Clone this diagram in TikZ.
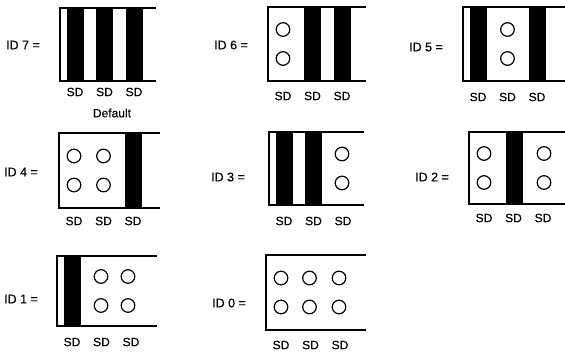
\documentclass[tikz,border=0pt]{standalone}
\usepackage{fontspec}
\setmainfont{Liberation Sans}[FakeBold=0.5]
\tikzset{
  frame/.style={line width=2.4pt, line cap=butt, line join=miter},
  pin/.style={line width=1.2pt},
  lbl/.style={inner sep=0pt, font=\fontsize{12.5}{14}\selectfont},
  sd/.style={inner sep=0pt, font=\fontsize{12}{14}\selectfont},
}
% #1 L, #2 T, #3 B, #4 R
\newcommand\swframe[4]{\draw[frame] (#4,#2) -- (#1,#2) -- (#1,#3) -- (#4,#3);}
% #1 L, #2 T, #3 B, #4 column centre offset
\newcommand\swbar[4]{\fill[black] ({#1+#4-8.5},#2) rectangle ({#1+#4+8.5},#3);}
\newcommand\swpins[4]{\draw[pin] ({#1+#4},{(#2+#3)/2-14.5}) circle[radius=6.8]
  ({#1+#4},{(#2+#3)/2+14.5}) circle[radius=6.8];}
% #1 name, #2 L, #3 y
\newcommand\swsd[3]{%
  \node[sd] (#1a) at ({#2+15},#3) {SD};
  \node[sd] (#1b) at ({#2+44.5},#3) {SD};
  \node[sd] (#1c) at ({#2+74},#3) {SD};}
\begin{document}
\begin{tikzpicture}[x=1pt,y=-1pt]
\useasboundingbox (0,0) rectangle (565,352);
% ---------- ID 7 ----------
\node[lbl] (id7) at (23,45) {ID 7 =};
\swbar{60}{8}{81}{15}\swbar{60}{8}{81}{44.5}\swbar{60}{8}{81}{74}
\swframe{60}{8}{81}{156}
\swsd{s7}{60}{92}
\node[sd] (def) at (112,113) {Default};
% ---------- ID 6 ----------
\node[lbl] (id6) at (231,45) {ID 6 =};
\swpins{268}{7}{81}{15}\swbar{268}{7}{81}{44.5}\swbar{268}{7}{81}{74}
\swframe{268}{7}{81}{366}
\swsd{s6}{268}{96}
% ---------- ID 5 ----------
\node[lbl] (id5) at (426,47) {ID 5 =};
\swbar{463}{7}{81}{15}\swpins{463}{7}{81}{44.5}\swbar{463}{7}{81}{74}
\swframe{463}{7}{81}{565}
\swsd{s5}{463}{97}
% ---------- ID 4 ----------
\node[lbl] (id4) at (21,172) {ID 4 =};
\swpins{59}{133}{208}{15}\swpins{59}{133}{208}{44.5}\swbar{59}{133}{208}{74}
\swframe{59}{133}{208}{160}
\swsd{s4}{59}{221}
% ---------- ID 3 ----------
\node[lbl] (id3) at (228,177) {ID 3 =};
\swbar{269}{132}{205}{15}\swbar{269}{132}{205}{44.5}\swpins{269}{132}{205}{73}
\swframe{269}{132}{205}{364}
\swsd{s3}{269}{221}
% ---------- ID 2 ----------
\node[lbl] (id2) at (432,177) {ID 2 =};
\swpins{469}{132}{204}{15}\swbar{469}{132}{204}{45.5}\swpins{469}{132}{204}{75}
\swframe{469}{132}{204}{565}
\swsd{s2}{469}{218}
% ---------- ID 1 ----------
\node[lbl] (id1) at (21,299) {ID 1 =};
\swbar{57}{256}{326}{15}\swpins{57}{256}{326}{44}\swpins{57}{256}{326}{71}
\swframe{57}{256}{326}{157}
\swsd{s1}{57}{342}
% ---------- ID 0 ----------
\node[lbl] (id0) at (229,303) {ID 0 =};
\swpins{266}{255}{330}{15}\swpins{266}{255}{330}{43.5}\swpins{266}{255}{330}{73}
\swframe{266}{255}{330}{366}
\swsd{s0}{266}{345}
\end{tikzpicture}
\end{document}
